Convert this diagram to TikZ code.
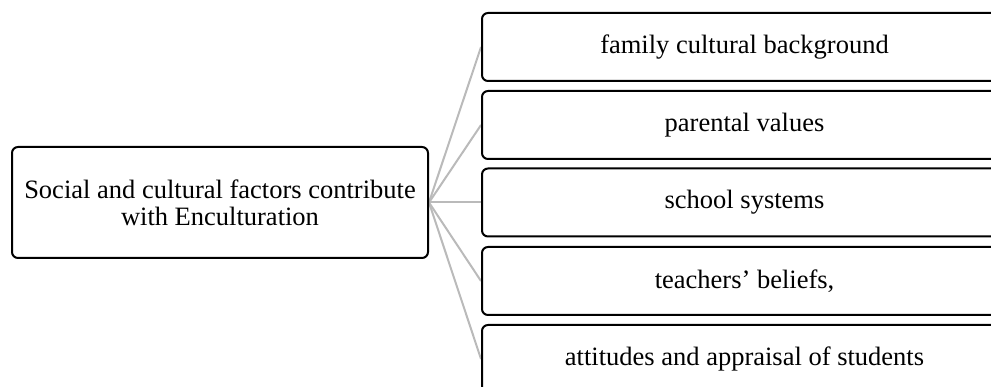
\documentclass[tikz,border=0pt]{standalone}
\usepackage{fontspec}
\setmainfont{Liberation Serif}
\usetikzlibrary{backgrounds}
\begin{document}
\begin{tikzpicture}[x=1pt,y=-1pt,
  box/.style={draw=black,line width=2pt,rounded corners=6pt,fill=white,align=center,
    font=\fontsize{26.5}{27}\selectfont,inner sep=0pt},
  item/.style={box,minimum width=525pt,minimum height=68pt},
  conn/.style={draw=black!27,line width=2pt}]
\useasboundingbox (0,0) rectangle (991,387);
\clip (0,0) rectangle (991,387);
\node[box,minimum width=416pt,minimum height=111pt] (c) at (220,202.5)
  {Social and cultural factors contribute\\with Enculturation};
\node[item] (b1) at (744.5,47) {family cultural background};
\node[item] (b2) at (744.5,125) {parental values};
\node[item] (b3) at (744.5,202.5) {school systems};
\node[item] (b4) at (744.5,281) {teachers’ beliefs,};
\node[item] (b5) at (744.5,359) {attitudes and appraisal of students};
\begin{scope}[on background layer]
\foreach \b in {b1,b2,b3,b4,b5}{\draw[conn] (c.east) -- (\b.west);}
\end{scope}
\end{tikzpicture}
\end{document}
